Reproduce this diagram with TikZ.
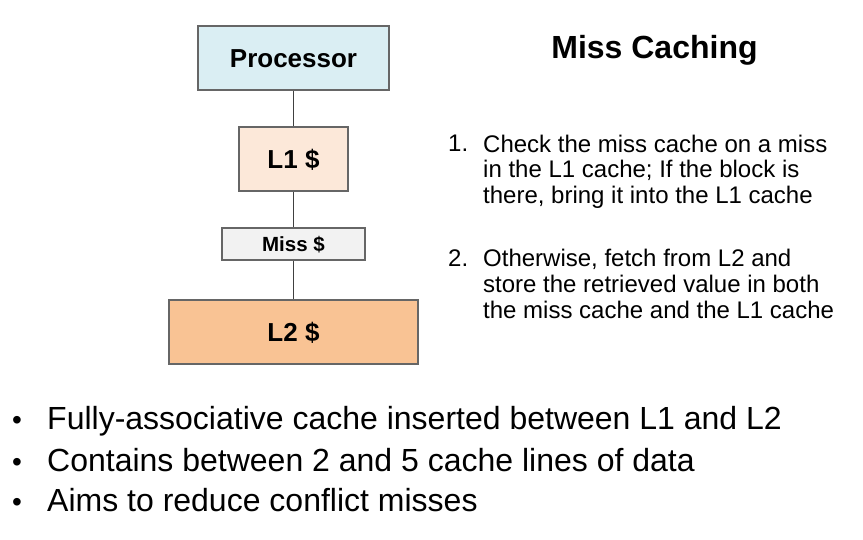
\documentclass[tikz,border=0pt]{standalone}
\usepackage{fontspec}
\setmainfont{Liberation Sans}
\usetikzlibrary{shadows}

\definecolor{procfill}{HTML}{DAEEF3}
\definecolor{lonefill}{HTML}{FCE8D9}
\definecolor{missfill}{HTML}{F2F2F2}
\definecolor{ltwofill}{HTML}{F9C394}
\definecolor{boxline}{HTML}{666666}

\begin{document}
\begin{tikzpicture}[x=1pt,y=-1pt,
    cb/.style={rectangle,draw=boxline,line width=1.3pt,inner sep=0pt,
        drop shadow={shadow xshift=1pt,shadow yshift=-1pt,opacity=.35},
        font=\bfseries\fontsize{26}{30}\selectfont,text height=18.6pt,text depth=0pt},
    ln/.style={draw=black!75,line width=0.8pt},
    tx/.style={inner sep=0pt,anchor=base west}]
    \useasboundingbox (0,0) rectangle (863,540);

    \node[cb,fill=procfill,minimum width=191pt,minimum height=64pt] (proc) at (293.5,58) {Processor};
    \node[cb,fill=lonefill,minimum width=109pt,minimum height=64pt] (lone) at (293.5,159) {L1 \$};
    \node[cb,fill=missfill,minimum width=143pt,minimum height=32pt,
        font=\bfseries\fontsize{20.5}{24}\selectfont,text height=14.7pt] (miss) at (293.5,244) {Miss \$};
    \node[cb,fill=ltwofill,minimum width=249pt,minimum height=64pt] (ltwo) at (293.5,332) {L2 \$};

    \path[ln] (proc) -- (lone);
    \path[ln] (lone) -- (miss);
    \path[ln] (miss) -- (ltwo);

    \node[inner sep=0pt,anchor=base,font=\bfseries\fontsize{32}{36}\selectfont] (title) at (654.5,59) {Miss Caching};

    \begin{scope}[font=\fontsize{24}{25.7}\selectfont]
        \node[tx] (n1) at (448,152) {1.};
        \node[inner sep=0pt,anchor=north west,align=left] (s1) at (483,134)
            {\strut Check the miss cache on a miss\\in the L1 cache; If the block is\\there, bring it into the L1 cache};
        \node[tx] (n2) at (448,266.7) {2.};
        \node[inner sep=0pt,anchor=north west,align=left] (s2) at (483,248.7)
            {\strut Otherwise, fetch from L2 and\\store the retrieved value in both\\the miss cache and the L1 cache};
    \end{scope}

    \begin{scope}[font=\fontsize{32}{36}\selectfont]
        \node[inner sep=0pt,anchor=base] (b1) at (17,429.3) {\fontsize{28}{30}\selectfont •};
        \node[tx] (t1) at (47,429.3) {Fully-associative cache inserted between L1 and L2};
        \node[inner sep=0pt,anchor=base] (b2) at (17,471) {\fontsize{28}{30}\selectfont •};
        \node[tx] (t2) at (47,471) {Contains between 2 and 5 cache lines of data};
        \node[inner sep=0pt,anchor=base] (b3) at (17,511.7) {\fontsize{28}{30}\selectfont •};
        \node[tx] (t3) at (47,511.7) {Aims to reduce conflict misses};
    \end{scope}
\end{tikzpicture}
\end{document}
